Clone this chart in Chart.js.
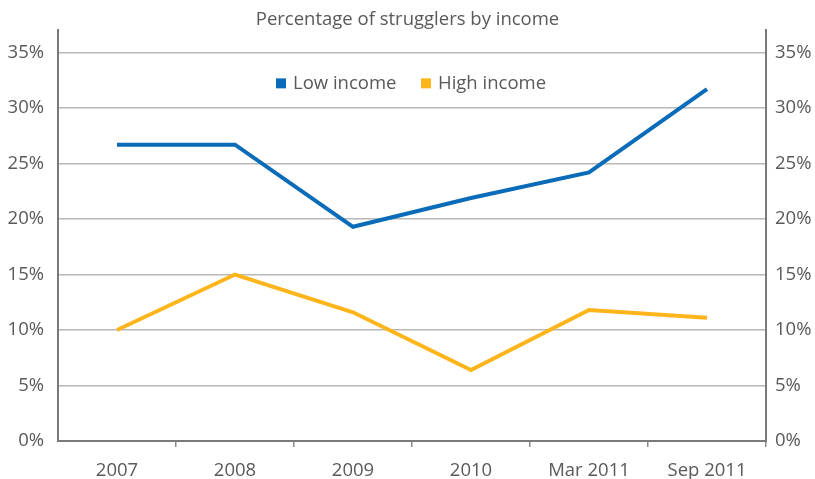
<!DOCTYPE html>
<html>
<head>
<meta charset="utf-8">
<title>Percentage of strugglers by income</title>
<script src="https://cdn.jsdelivr.net/npm/chart.js@4"></script>
<style>
    html, body { margin: 0; padding: 0; background: #fff; }
    #wrap { width: 815px; height: 479px; position: relative; }
</style>
</head>
<body>
<div id="wrap"><canvas id="incomeChart"></canvas></div>
<script>
// Survey periods and share of strugglers (%) per income group
const periods = ['2007', '2008', '2009', '2010', 'Mar 2011', 'Sep 2011'];
const lowIncome = [26.7, 26.7, 19.3, 21.9, 24.2, 31.7];
const highIncome = [10.0, 15.0, 11.6, 6.4, 11.8, 11.1];
const yTicks = [0, 5, 10, 15, 20, 25, 30, 35];

const FONT = '"Open Sans", Lato, sans-serif';
const TEXT = '#595959';
const BLUE = '#0a6cb8';
const ORANGE = '#fdb51b';

// keep only the listed tick values (scale max sits a little above 35%)
function fixedTicks(scale) {
    scale.ticks = yTicks.map(v => ({ value: v }));
}

// legend sits inside the plot area, near the top
const innerLegend = {
    id: 'innerLegend',
    afterDraw(chart) {
        const ctx = chart.ctx;
        const y = chart.chartArea.top + 53;
        const xs = [276, 421];
        ctx.save();
        ctx.font = '18.5px ' + FONT;
        ctx.textBaseline = 'middle';
        chart.data.datasets.forEach((ds, i) => {
            ctx.fillStyle = ds.borderColor;
            ctx.fillRect(xs[i], y - 5, 10, 10);
            ctx.fillStyle = TEXT;
            ctx.fillText(ds.label, xs[i] + 17, y);
        });
        ctx.restore();
    }
};

const ctx = document.getElementById('incomeChart').getContext('2d');
new Chart(ctx, {
    type: 'line',
    data: {
        labels: periods,
        datasets: [{
            label: 'Low income',
            data: lowIncome,
            borderColor: BLUE,
            backgroundColor: BLUE,
            borderWidth: 4,
            pointRadius: 0,
            tension: 0
        }, {
            label: 'High income',
            data: highIncome,
            borderColor: ORANGE,
            backgroundColor: ORANGE,
            borderWidth: 4,
            pointRadius: 0,
            tension: 0
        }]
    },
    options: {
        responsive: true,
        maintainAspectRatio: false,
        animation: false,
        layout: { padding: 0 },
        plugins: {
            legend: { display: false },
            tooltip: { enabled: false },
            title: {
                display: true,
                text: 'Percentage of strugglers by income',
                color: TEXT,
                font: { family: FONT, size: 18.5, weight: 'normal', lineHeight: 1.1 },
                padding: { top: 10, bottom: 0 }
            }
        },
        scales: {
            x: {
                offset: true,
                grid: {
                    offset: true,
                    drawOnChartArea: false,
                    drawTicks: true,
                    tickLength: 6,
                    lineWidth: 1.5,
                    color: c => (c.index === 0 || c.index === periods.length) ? 'rgba(0,0,0,0)' : '#8a8a8a'
                },
                border: { color: '#7a7a7a', width: 2 },
                ticks: {
                    color: TEXT,
                    font: { family: FONT, size: 18.5 },
                    padding: 13,
                    maxRotation: 0,
                    autoSkip: false
                },
                afterFit(scale) { scale.height = 38; }
            },
            y: {
                position: 'left',
                min: 0,
                max: 37,
                afterBuildTicks: fixedTicks,
                grid: { color: '#b8b8b8', lineWidth: 1.5, drawTicks: false },
                border: { color: '#7a7a7a', width: 2 },
                ticks: {
                    color: TEXT,
                    font: { family: FONT, size: 18.5 },
                    padding: 14,
                    callback: v => v + '%'
                },
                afterFit(scale) { scale.width = 58; }
            },
            y1: {
                position: 'right',
                min: 0,
                max: 37,
                afterBuildTicks: fixedTicks,
                grid: { drawOnChartArea: false, drawTicks: false },
                border: { color: '#7a7a7a', width: 2 },
                ticks: {
                    color: TEXT,
                    font: { family: FONT, size: 18.5 },
                    padding: 9,
                    callback: v => v + '%'
                },
                afterFit(scale) { scale.width = 49; }
            }
        }
    },
    plugins: [innerLegend]
});
</script>
</body>
</html>
